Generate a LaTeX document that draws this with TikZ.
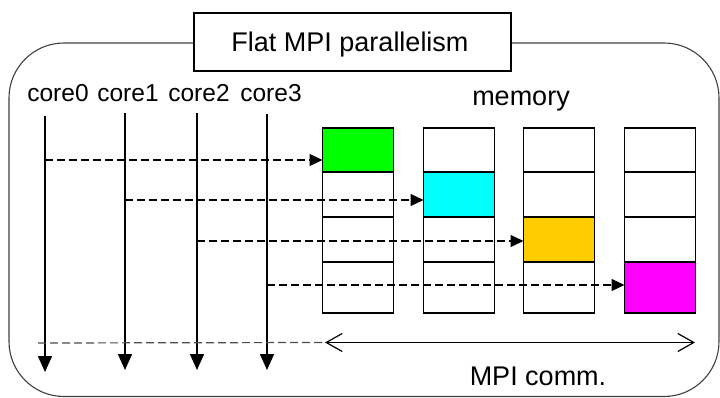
\documentclass[tikz,border=0pt]{standalone}
\usepackage{fontspec}
\setmainfont{Liberation Sans}
\usetikzlibrary{arrows.meta}
\definecolor{cgreen}{HTML}{00FF00}
\definecolor{ccyan}{HTML}{00FFFF}
\definecolor{corange}{HTML}{FFCC00}
\definecolor{cmagenta}{HTML}{FF00FF}
\definecolor{frame}{HTML}{404040}
\tikzset{
  cell/.style={draw, line width=1.4pt, minimum width=71pt, inner sep=0pt, outer sep=0pt},
  corearrow/.style={line width=1.6pt, -{Triangle[length=16pt,width=14pt]}},
  dasharrow/.style={line width=1.2pt, dash pattern=on 8pt off 4pt, -{Triangle[length=13pt,width=12pt]}},
  commarrow/.style={line width=1.2pt, {Straight Barb[length=16pt,width=18pt,line width=1.2pt]}-{Straight Barb[length=16pt,width=18pt,line width=1.2pt]}},
  lbl/.style={inner sep=0pt, anchor=base, font=\fontsize{27}{30}\selectfont},
  corelbl/.style={inner sep=0pt, anchor=base, font=\fontsize{24.5}{28}\selectfont},
}
\begin{document}
\begin{tikzpicture}[x=1pt,y=-1pt]
\useasboundingbox (0,0) rectangle (720,398);
% container
\draw[frame, line width=1.1pt, rounded corners=55pt] (9,43) rectangle (719,396.5);
% title
\node[draw, line width=1.4pt, fill=white, minimum width=317pt, minimum height=58pt, inner sep=0pt] (title) at (352.5,42) {};
\node[lbl] (titletext) at (350,52) {Flat MPI parallelism};
% labels
\node[corelbl] (l0) at (58,102) {core0};
\node[corelbl] (l1) at (128,102) {core1};
\node[corelbl] (l2) at (199,102) {core2};
\node[corelbl] (l3) at (271,102) {core3};
\node[lbl] (mem) at (521,106) {memory};
\node[lbl] (comm) at (538,385) {MPI comm.};
% memory cells
\foreach \c/\x in {0/358,1/459,2/559,3/660}{
  \node[cell, minimum height=44pt] (m\c0) at (\x,150) {};
  \node[cell, minimum height=45pt] (m\c1) at (\x,194.5) {};
  \node[cell, minimum height=45pt] (m\c2) at (\x,239.5) {};
  \node[cell, minimum height=51pt] (m\c3) at (\x,287.5) {};
}
\node[cell, minimum height=44pt, fill=cgreen] (g) at (358,150) {};
\node[cell, minimum height=45pt, fill=ccyan] (cy) at (459,194.5) {};
\node[cell, minimum height=45pt, fill=corange] (or) at (559,239.5) {};
\node[cell, minimum height=51pt, fill=cmagenta] (mg) at (660,287.5) {};
% core lines
\coordinate (c0t) at (45,116);  \coordinate (c0b) at (45,372);
\coordinate (c1t) at (125,113); \coordinate (c1b) at (125,370);
\coordinate (c2t) at (197,113); \coordinate (c2b) at (197,370);
\coordinate (c3t) at (267,114); \coordinate (c3b) at (267,370);
\foreach \i in {0,1,2,3}{ \draw[corearrow] (c\i t) -- (c\i b); }
% dashed arrows
\coordinate (d0) at (45,160);
\coordinate (d1) at (125,200);
\coordinate (d2) at (197,241);
\coordinate (d3) at (267,285);
\draw[dasharrow] (d0) -- (d0 -| g.west);
\draw[dasharrow] (d1) -- (d1 -| cy.west);
\draw[dasharrow] (d2) -- (d2 -| or.west);
\draw[dasharrow] (d3) -- (d3 -| mg.west);
% bottom MPI comm
\coordinate (dl) at (38,343);
\coordinate (ca) at (325,342.5);
\coordinate (cb) at (695,342.5);
\draw[black!70, line width=1.2pt, dash pattern=on 8pt off 4pt] (dl) -- (ca);
\draw[commarrow] (ca) -- (cb);
\end{tikzpicture}
\end{document}
